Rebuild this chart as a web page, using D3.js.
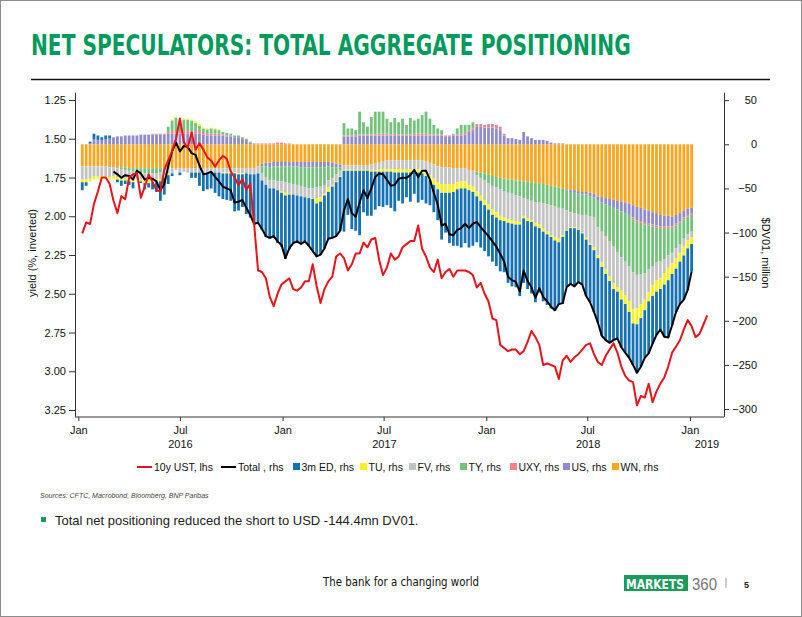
<!DOCTYPE html>
<html><head><meta charset="utf-8">
<script src="https://cdn.jsdelivr.net/npm/d3@7"></script>
<style>body{margin:0;background:#fff;} svg{display:block;font-family:"Liberation Sans",Arial,sans-serif;}</style>
</head><body><svg id="c" width="802" height="617"></svg>
<script>
// ---------------- DATA ----------------
// weekly observations (Fridays), first one 8 Jan 2016
const firstWeek = new Date(2016, 0, 8);
const nBars = 157;      // 8 Jan 2016 .. 4 Jan 2019
const nYield = 161;     // 8 Jan 2016 .. 1 Feb 2019

const ust10y = [2.11,2.04,2.05,1.92,1.84,1.75,1.75,1.79,1.90,1.98,1.87,1.89,1.75,1.73,1.72,1.88,1.81,1.73,1.78,1.83,
1.84,1.70,1.64,1.58,1.50,1.37,1.52,1.56,1.46,1.57,1.53,1.57,1.62,1.64,1.68,1.64,1.61,1.63,1.71,1.75,
1.80,1.76,1.83,1.79,2.05,2.35,2.36,2.40,2.52,2.58,2.50,2.44,2.42,2.40,2.47,2.48,2.46,2.42,2.42,2.31,
2.45,2.56,2.47,2.42,2.39,2.26,2.24,2.27,2.35,2.31,2.24,2.24,2.17,2.20,2.15,2.14,2.28,2.38,2.33,2.24,
2.28,2.26,2.20,2.18,2.16,2.16,2.06,2.21,2.26,2.33,2.36,2.28,2.40,2.36,2.34,2.39,2.35,2.35,2.35,2.36,
2.38,2.46,2.43,2.50,2.55,2.66,2.67,2.83,2.85,2.87,2.86,2.86,2.89,2.87,2.81,2.74,2.78,2.83,2.96,2.95,
2.96,2.97,3.05,2.93,2.90,2.94,2.91,2.89,2.86,2.83,2.82,2.89,2.94,2.96,2.90,2.86,2.82,2.88,2.97,3.03,
3.06,3.07,3.22,3.16,3.17,3.08,3.20,3.13,3.08,3.04,2.97,2.88,2.84,2.80,2.73,2.67,2.71,2.78,2.76,2.70,2.64];

const totalNet = [null,null,null,null,null,null,null,null,-31,-34,-38,-35,-36,-40,-30,-33,-40,-38,-39,-42,
-52,-45,-25,-8,2,-8,-2,-3,-10,-12,-24,-34,-33,-31,-37,-42,-48,-50,-52,-66,
-65,-63,-72,-80,-90,-89,-96,-104,-106,-104,-110,-114,-129,-118,-112,-110,-113,-110,-115,-121,
-127,-125,-118,-107,-106,-104,-98,-75,-62,-78,-82,-66,-52,-61,-50,-37,-33,-34,-40,-47,
-46,-39,-38,-38,-35,-29,-37,-30,-30,-40,-55,-68,-92,-90,-102,-103,-97,-95,-90,-95,
-90,-88,-94,-99,-104,-110,-116,-124,-133,-150,-154,-156,-167,-143,-155,-162,-174,-163,-173,-178,
-184,-188,-181,-180,-162,-158,-161,-156,-159,-172,-179,-190,-202,-217,-222,-225,-222,-220,-230,-236,
-242,-250,-259,-252,-242,-237,-226,-216,-210,-218,-219,-205,-190,-181,-176,-165,-144];

const WN = [-25,-25,-25,-25,-25,-25,-25,-26,-26,-26,-26,-26,-27,-27,-27,-27,-27,-27,-27,-27,
-27,-28,-27,-27,-27,-27,-27,-27,-27,-27,-27,-27,-27,-27,-27,-27,-27,-27,-27,-27,
-27,-27,-27,-27,-27,-25,-22,-21,-21,-20,-20,-20,-20,-20,-20,-20,-20,-20,-20,-20,
-20,-20,-20,-20,-21,-22,-23,-24,-24,-24,-24,-24,-24,-24,-23,-22,-20,-19,-18,-18,
-18,-18,-18,-18,-18,-18,-18,-18,-19,-21,-23,-25,-26,-26,-26,-27,-27,-27,-27,-29,
-30,-31,-32,-33,-34,-36,-37,-38,-39,-40,-40,-41,-41,-42,-42,-43,-44,-44,-45,-46,
-47,-48,-49,-50,-51,-52,-52,-53,-54,-54,-55,-56,-59,-60,-61,-62,-63,-64,-65,-66,
-67,-69,-71,-72,-74,-75,-77,-78,-80,-81,-81,-82,-80,-78,-75,-73,-72];

const US = [0,0,1,6,5,5,6,7,8,9,9,10,10,10,10,11,11,11,11,11,
11,11,12,12,12,12,12,12,12,12,12,11,10,10,10,10,10,9,9,8,
8,7,5,2,1,0,-3,-4,-5,-5,-5,-5,-5,-5,-5,-5,-6,-6,-6,-6,
-6,-6,-6,-5,-5,-4,-3,9,9,9,9,10,10,10,10,10,10,10,10,10,
10,10,10,10,10,10,10,10,10,10,10,10,10,9,9,10,10,10,11,14,
16,20,20,19,19,19,18,16,10,7,7,6,5,14,9,7,5,5,5,4,
2,1,1,1,-1,-2,-3,-3,-3,-3,-4,-4,-5,-6,-7,-8,-9,-10,-11,-12,
-13,-14,-15,-15,-15,-15,-14,-14,-13,-12,-12,-11,-10,-9,-8,-7,-6];

const UXY = [0,0,0,0,0,0,0,0,0,0,0,0,0,0,0,0,0,0,1,1,
1,1,2,3,3,3,3,3,3,3,3,3,2,2,2,2,1,1,1,0,
0,0,0,0,0,1,1,1,1,1,2,2,1,1,0,0,0,0,0,0,
0,0,0,0,0,0,0,1,1,1,1,1,1,1,1,1,2,2,2,1,
2,1,1,1,1,2,2,2,2,1,1,1,1,1,1,1,1,2,2,2,
2,3,3,3,4,4,4,4,2,0,0,0,0,0,0,0,0,0,0,0,
0,0,0,0,0,0,0,0,0,0,0,0,0,0,0,0,0,0,0,0,
0,-2,-2,-2,-2,-2,-2,-2,-2,-2,-2,-2,-2,-2,-2,-2,-2];

const TY = [0,0,0,0,0,0,0,0,0,-1,-2,-3,-3,-4,-4,-5,-6,-6,-6,-6,
-5,0,6,12,15,11,13,13,12,9,6,4,5,6,5,4,3,3,2,2,
2,1,1,1,0,0,-8,-12,-15,-16,-17,-17,-18,-19,-20,-21,-22,-23,-24,-24,
-23,-22,-20,-16,-12,-8,-4,14,8,8,6,26,14,9,20,26,25,25,17,14,
18,14,18,11,19,15,17,21,25,18,11,7,5,0,0,1,7,10,9,6,
7,-4,-6,-8,-10,-11,-12,-13,-14,-15,-16,-17,-18,-19,-20,-21,-22,-22,-22,-22,
-22,-22,-23,-23,-23,-23,-23,-23,-23,-23,-23,-23,-30,-33,-36,-40,-44,-48,-52,-55,
-58,-60,-60,-58,-55,-50,-45,-40,-38,-35,-31,-28,-26,-24,-22,-20,-19];

const FV = [-15,-15,-14,-11,-11,-11,-11,-11,-10,-10,-10,-9,-9,-9,-8,-8,-8,-8,-7,-7,
-7,-7,-6,-6,-2,-5,-4,-5,-5,-5,-5,-5,-5,-5,-5,-5,-5,-5,-5,-5,
-6,-6,-6,-7,-7,-8,-8,-9,-9,-9,-10,-11,-12,-12,-12,-12,-11,-11,-11,-11,
-12,-12,-10,-8,-8,-8,-6,-5,-5,-5,-5,-5,-5,-5,-6,-7,-8,-9,-10,-10,
-10,-10,-10,-10,-10,-10,-10,-11,-12,-14,-16,-18,-19,-19,-19,-18,-16,-15,-15,-17,
-18,-18,-20,-22,-24,-27,-28,-30,-30,-30,-30,-29,-29,-20,-22,-22,-23,-25,-28,-31,
-34,-35,-35,-30,-22,-17,-16,-17,-20,-26,-30,-34,-32,-35,-38,-40,-42,-40,-38,-38,
-40,-42,-38,-34,-30,-26,-22,-20,-19,-16,-14,-12,-11,-10,-9,-7,-6];

const TU = [-3,-3,-3,-4,-3,-3,-3,-3,-3,-3,-3,-3,-3,-3,-1,-2,-3,-3,-3,-3,
-3,-3,-2,1,1,1,1,1,1,2,2,1,1,1,1,1,-1,-1,-1,-1,
-1,-1,1,0,0,0,0,0,0,0,0,-2,-3,-1,0,0,0,0,0,-1,
-6,-5,-2,-5,-2,-1,-1,-1,-1,-1,-1,-1,-1,-1,-2,-2,-3,-3,-3,-3,
-4,-4,-4,-4,-4,-4,-4,-4,-5,-6,-7,-8,-10,-10,-10,-9,-8,-8,-8,-6,
-6,-6,-6,-6,-6,-6,-6,-5,-4,-4,-4,-4,-3,-3,-3,-2,-4,-4,-4,-3,
-2,-4,-4,-2,-1,-1,-1,-1,-1,-2,-2,-3,-3,-5,-5,-5,-6,-5,-10,-10,
-12,-16,-18,-16,-12,-10,-12,-13,-12,-13,-14,-12,-12,-10,-10,-9,-8];

const ED = [-9,-4,2,6,5,3,4,3,0,-3,-6,-4,-4,-7,0,-2,-7,-5,-8,-11,
-22,-19,-10,-3,0,-3,0,0,-6,-6,-15,-21,-19,-18,-23,-27,-29,-30,-31,-43,
-41,-37,-46,-49,-57,-57,-56,-59,-57,-55,-60,-61,-72,-62,-55,-52,-54,-50,-54,-59,
-60,-60,-60,-53,-58,-61,-61,-69,-50,-66,-68,-73,-47,-51,-50,-43,-39,-40,-38,-41,
-44,-32,-35,-28,-33,-24,-34,-30,-31,-28,-31,-35,-53,-45,-57,-61,-64,-67,-62,-65,
-61,-52,-53,-52,-53,-53,-55,-58,-58,-68,-71,-71,-81,-73,-77,-81,-86,-73,-79,-80,
-81,-80,-71,-76,-64,-63,-66,-59,-58,-64,-65,-70,-73,-78,-75,-70,-58,-53,-54,-55,
-52,-47,-55,-55,-54,-59,-54,-49,-46,-59,-65,-58,-49,-48,-50,-47,-31];

const seriesKeys   = ["WN","US","UXY","TY","FV","TU","ED"];
const seriesValues = {WN, US, UXY, TY, FV, TU, ED};
const seriesColors = {ED:"#1672b3", TU:"#fbf21c", FV:"#c3c3c3", TY:"#74c27c", UXY:"#f2838a", US:"#8f8ccb", WN:"#fca61f"};
const legendItems = [
  {label:"10y UST, lhs", type:"line", color:"#e8141b"},
  {label:"Total , rhs", type:"line", color:"#000000"},
  {label:"3m ED, rhs", type:"box", color:seriesColors.ED},
  {label:"TU, rhs", type:"box", color:seriesColors.TU},
  {label:"FV, rhs", type:"box", color:seriesColors.FV},
  {label:"TY, rhs", type:"box", color:seriesColors.TY},
  {label:"UXY, rhs", type:"box", color:seriesColors.UXY},
  {label:"US, rhs", type:"box", color:seriesColors.US},
  {label:"WN, rhs", type:"box", color:seriesColors.WN}
];
const leftTicks  = [1.25,1.50,1.75,2.00,2.25,2.50,2.75,3.00,3.25];
const rightTicks = [50,0,-50,-100,-150,-200,-250,-300];
const xTickDates = [new Date(2016,0,1),new Date(2016,6,1),new Date(2017,0,1),new Date(2017,6,1),new Date(2018,0,1),new Date(2018,6,1),new Date(2019,0,1)];

// ---------------- CHART ----------------
const weekDate = i => d3.timeDay.offset(firstWeek, 7*i);
const svg = d3.select("#c");
svg.append("rect").attr("x",0.5).attr("y",0.5).attr("width",801).attr("height",616)
  .attr("fill","#fff").attr("stroke","#8c8c8c");

// title: fit to 600px wide by choosing the font size, then restore the cap height vertically
const titleSize = 29, titleWidth = 600;
const title = svg.append("text")
  .attr("font-family","'Liberation Sans Narrow','DejaVu Sans Condensed','Roboto Condensed',Arial,sans-serif")
  .attr("font-size",titleSize).attr("font-weight","bold").attr("fill","#009a5c")
  .text("NET SPECULATORS: TOTAL AGGREGATE POSITIONING");
const natW = title.node().getComputedTextLength();
const r = titleWidth / natW;
title.attr("font-size", titleSize * r).attr("transform", `translate(31,54.5) scale(1,${1/r})`);

svg.append("line").attr("x1",31).attr("x2",770).attr("y1",79.5).attr("y2",79.5)
  .attr("stroke","#111").attr("stroke-width",1.5);

const x  = d3.scaleTime().domain([new Date(2015,11,26), new Date(2019,2,3)]).range([75,724]);
const yL = d3.scaleLinear().domain([1.2, 3.29]).range([92.25, 416.2]);
const yR = d3.scaleLinear().domain([59, -308.2]).range([92.25, 416.25]);

const rows = d3.range(nBars).map(i => {
  const row = {date: weekDate(i)};
  seriesKeys.forEach(k => row[k] = seriesValues[k][i]);
  return row;
});
const stacked = d3.stack().keys(seriesKeys).offset(d3.stackOffsetDiverging)(rows);
const barW = 2.8;
const gBars = svg.append("g");
stacked.forEach(layer => {
  gBars.append("g").attr("fill", seriesColors[layer.key])
    .selectAll("rect").data(layer.filter(d => d[0] !== d[1])).join("rect")
    .attr("x", d => x(d.data.date) - barW/2)
    .attr("width", barW)
    .attr("y", d => yR(Math.max(d[0], d[1])))
    .attr("height", d => Math.abs(yR(d[0]) - yR(d[1])));
});

const totalPts = totalNet.map((v,i) => ({date: weekDate(i), v}));
svg.append("path").datum(totalPts)
  .attr("fill","none").attr("stroke","#000").attr("stroke-width",2).attr("stroke-linejoin","round")
  .attr("d", d3.line().defined(d => d.v !== null).x(d => x(d.date)).y(d => yR(d.v)));

const yieldPts = ust10y.map((v,i) => ({date: weekDate(i), v}));
svg.append("path").datum(yieldPts)
  .attr("fill","none").attr("stroke","#e8141b").attr("stroke-width",2).attr("stroke-linejoin","round")
  .attr("d", d3.line().x(d => x(d.date)).y(d => yL(d.v)));

// axes
const axisStyle = g => {
  g.selectAll("path,line").attr("stroke","#333").attr("stroke-width",1);
  g.selectAll("text").attr("font-size",11).attr("fill","#111").attr("font-family","'Liberation Sans',Arial,sans-serif");
};
svg.append("g").attr("transform","translate(75,0)")
  .call(d3.axisLeft(yL).tickValues(leftTicks).tickFormat(d3.format(".2f")).tickSize(6).tickSizeOuter(0).tickPadding(3))
  .call(axisStyle);
const gR = svg.append("g").attr("transform","translate(724,0)")
  .call(d3.axisRight(yR).tickValues(rightTicks).tickFormat(d3.format("d")).tickSize(5).tickSizeOuter(0))
  .call(axisStyle);
gR.selectAll("text").attr("text-anchor","end").attr("x",33);
const gX = svg.append("g").attr("transform","translate(0,417)")
  .call(d3.axisBottom(x).tickValues(xTickDates).tickFormat(d => d.getMonth()===0 ? "Jan" : "Jul").tickSize(4).tickSizeOuter(0).tickPadding(5))
  .call(axisStyle);
gX.select(".domain").attr("d","M75,0H724");
// year labels centred on visible part of each year
const [d0, d1] = x.domain();
[2016,2017,2018,2019].forEach(yr => {
  const a = d3.max([new Date(yr,0,1), d0]), b = d3.min([new Date(yr+1,0,1), d1]);
  svg.append("text").attr("x", (x(a)+x(b))/2).attr("y",448).attr("text-anchor","middle")
    .attr("font-size",11).attr("fill","#111").text(yr);
});

svg.append("text").attr("transform","translate(36,253) rotate(-90)").attr("text-anchor","middle")
  .attr("font-size",11).attr("fill","#111").text("yield (%, inverted)");
svg.append("text").attr("transform","translate(762,253) rotate(90)").attr("text-anchor","middle")
  .attr("font-size",11).attr("fill","#111").text("$DV01, million");

// legend (item start positions as laid out in the reference)
const legendX = [137, 221, 293, 360, 409, 460, 510, 563, 612];
const gLeg = svg.append("g").attr("font-size",10.5).attr("fill","#111");
const ly = 467;
legendItems.forEach((it, k) => {
  let lx = legendX[k];
  if (it.type === "line") {
    gLeg.append("line").attr("x1",lx).attr("x2",lx+15).attr("y1",ly).attr("y2",ly).attr("stroke",it.color).attr("stroke-width",2);
    lx += 17;
  } else {
    gLeg.append("rect").attr("x",lx).attr("y",ly-4).attr("width",7).attr("height",7).attr("fill",it.color);
    lx += 8.5;
  }
  gLeg.append("text").attr("x",lx).attr("y",ly+3.8).text(it.label);
});

svg.append("text").attr("x",40).attr("y",498).attr("font-size",7).attr("font-style","italic").attr("fill","#444")
  .text("Sources: CFTC, Macrobond, Bloomberg, BNP Paribas");

svg.append("rect").attr("x",41).attr("y",517).attr("width",5).attr("height",5).attr("fill","#1a9a5c");
svg.append("text").attr("x",55).attr("y",525).attr("font-size",13).attr("fill","#222")
  .text("Total net positioning reduced the short to USD -144.4mn DV01.");

// footer
svg.append("text").attr("x",323).attr("y",586).attr("font-size",13).attr("fill","#111")
  .attr("font-family","'Liberation Sans Narrow','DejaVu Sans Condensed',Arial,sans-serif")
  .attr("textLength",156).attr("lengthAdjust","spacingAndGlyphs").text("The bank for a changing world");
svg.append("rect").attr("x",624).attr("y",575).attr("width",64).attr("height",16).attr("fill","#1a9a5c");
svg.append("text").attr("x",626).attr("y",588.5).attr("font-size",13.5).attr("font-weight","bold").attr("fill","#fff")
  .attr("font-family","'Liberation Sans Narrow','DejaVu Sans Condensed',Arial,sans-serif")
  .attr("textLength",58).attr("lengthAdjust","spacingAndGlyphs").text("MARKETS");
svg.append("text").attr("x",692).attr("y",590).attr("font-size",16).attr("fill","#777")
  .attr("textLength",25).attr("lengthAdjust","spacingAndGlyphs").text("360");
svg.append("line").attr("x1",726).attr("x2",726).attr("y1",578).attr("y2",588).attr("stroke","#999");
svg.append("text").attr("x",744).attr("y",588).attr("font-size",9).attr("font-weight","bold").attr("fill","#222").text("5");
</script></body></html>
